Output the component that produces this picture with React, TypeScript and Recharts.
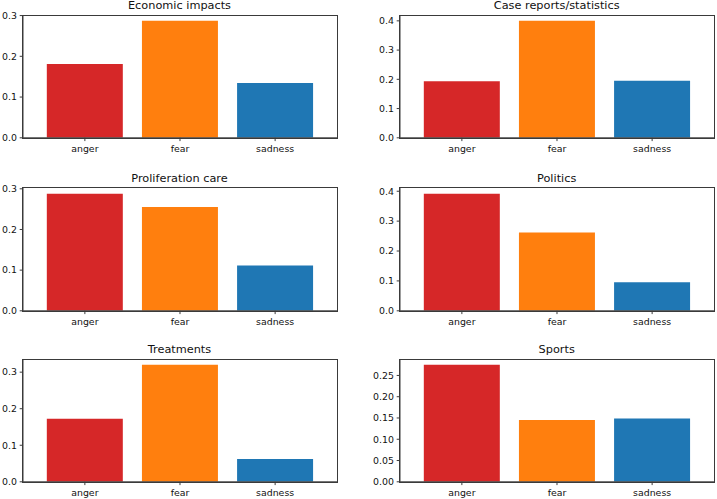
import React from 'react';
import { BarChart, Bar, XAxis, YAxis, Cell } from 'recharts';

const CATEGORIES = ['anger', 'fear', 'sadness'];
const COLORS = ['#d62728', '#ff7f0e', '#1f77b4'];

const economicValues = [0.181, 0.287, 0.1345];
const caseValues = [0.193, 0.4, 0.195];
const proliferationValues = [0.2876, 0.2555, 0.1112];
const politicsValues = [0.3913, 0.2622, 0.0955];
const treatmentValues = [0.1723, 0.32, 0.0621];
const sportsValues = [0.2749, 0.145, 0.149];

const ticksTo03 = [0, 0.1, 0.2, 0.3];
const ticksTo04 = [0, 0.1, 0.2, 0.3, 0.4];
const ticksSports = [0, 0.05, 0.1, 0.15, 0.2, 0.25];

const FONT = 'DejaVu Sans';
const PLOT_W = 314;
const PLOT_H = 122.8;
const Y_W = 40;
const TOP_M = 20;
const X_H = 22;
const RIGHT_M = 5;
const AXIS_COLOR = '#3a3a3a';

type PanelProps = {
  title: string;
  values: number[];
  ticks: number[];
  decimals: number;
  x: number;
  y: number;
};

function Panel({ title, values, ticks, decimals, x, y }: PanelProps) {
  const data = CATEGORIES.map((c, i) => ({ name: c, value: values[i] }));
  const ymax = Math.max(...values) * 1.05;
  const tickStyle = { fontFamily: FONT, fontSize: 9.4, fill: '#111' };
  return (
    <>
      <div
        style={{
          position: 'absolute',
          left: x,
          top: y - 16,
          width: PLOT_W,
          textAlign: 'center',
          fontFamily: FONT,
          fontSize: 11.3,
          lineHeight: '13px',
          color: '#111',
          whiteSpace: 'nowrap',
        }}
      >
        {title}
      </div>
      <div style={{ position: 'absolute', left: x - Y_W, top: y - TOP_M }}>
        <BarChart
          width={Y_W + PLOT_W + RIGHT_M}
          height={TOP_M + PLOT_H + X_H}
          data={data}
          margin={{ top: TOP_M, right: RIGHT_M, left: 0, bottom: 0 }}
          barCategoryGap="10%"
        >
          <XAxis
            dataKey="name"
            height={X_H}
            padding={{ left: 14.3, right: 14.3 }}
            tick={tickStyle}
            tickSize={3.3}
            tickMargin={4}
            axisLine={{ stroke: AXIS_COLOR, strokeWidth: 1 }}
            tickLine={{ stroke: AXIS_COLOR, strokeWidth: 1 }}
            interval={0}
          />
          <YAxis
            type="number"
            width={Y_W}
            domain={[0, ymax]}
            allowDataOverflow
            ticks={ticks}
            interval={0}
            tickFormatter={(v: number) => v.toFixed(decimals)}
            tick={tickStyle}
            tickSize={3.3}
            tickMargin={2.7}
            axisLine={{ stroke: AXIS_COLOR, strokeWidth: 1 }}
            tickLine={{ stroke: AXIS_COLOR, strokeWidth: 1 }}
          />
          <Bar dataKey="value" isAnimationActive={false}>
            {data.map((d, i) => (
              <Cell key={d.name} fill={COLORS[i]} />
            ))}
          </Bar>
        </BarChart>
      </div>
      <div
        style={{
          position: 'absolute',
          left: x - 0.5,
          top: y - 0.5,
          width: PLOT_W,
          height: PLOT_H,
          border: `1px solid ${AXIS_COLOR}`,
          pointerEvents: 'none',
        }}
      />
    </>
  );
}

const COL_X = [22.5, 399.7];
const ROW_Y = [15, 187.5, 359];

export default function App() {
  return (
    <div
      style={{
        position: 'absolute',
        left: 0,
        top: 0,
        width: 717,
        height: 499,
        background: '#fff',
        overflow: 'hidden',
      }}
    >
      <Panel title="Economic impacts" values={economicValues} ticks={ticksTo03} decimals={1} x={COL_X[0]} y={ROW_Y[0]} />
      <Panel title="Case reports/statistics" values={caseValues} ticks={ticksTo04} decimals={1} x={COL_X[1]} y={ROW_Y[0]} />
      <Panel title="Proliferation care" values={proliferationValues} ticks={ticksTo03} decimals={1} x={COL_X[0]} y={ROW_Y[1]} />
      <Panel title="Politics" values={politicsValues} ticks={ticksTo04} decimals={1} x={COL_X[1]} y={ROW_Y[1]} />
      <Panel title="Treatments" values={treatmentValues} ticks={ticksTo03} decimals={1} x={COL_X[0]} y={ROW_Y[2]} />
      <Panel title="Sports" values={sportsValues} ticks={ticksSports} decimals={2} x={COL_X[1]} y={ROW_Y[2]} />
    </div>
  );
}
